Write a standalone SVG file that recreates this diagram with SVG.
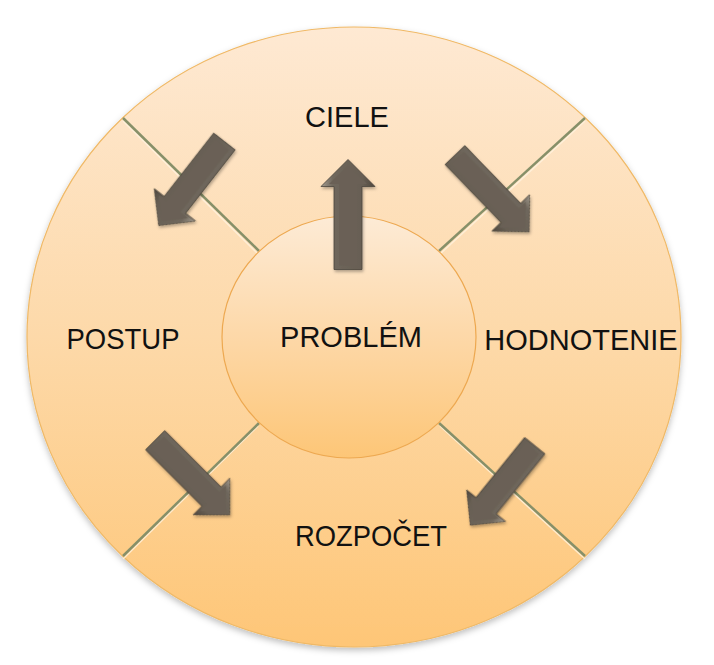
<svg xmlns="http://www.w3.org/2000/svg" width="714" height="665" viewBox="0 0 714 665">
  <defs>
    <linearGradient id="gOuter" x1="0" y1="0" x2="0" y2="1">
      <stop offset="0" stop-color="#fee9d3"/>
      <stop offset="0.5" stop-color="#fdd9a9"/>
      <stop offset="1" stop-color="#fec677"/>
    </linearGradient>
    <linearGradient id="gInner" x1="0" y1="0" x2="0" y2="1">
      <stop offset="0" stop-color="#fdebd6"/>
      <stop offset="0.5" stop-color="#fdd8a8"/>
      <stop offset="1" stop-color="#fdc677"/>
    </linearGradient>
    <linearGradient id="gArrow" x1="0" y1="0" x2="1" y2="0">
      <stop offset="0" stop-color="#a39b8f"/>
      <stop offset="0.22" stop-color="#6f675c"/>
      <stop offset="0.78" stop-color="#675e53"/>
      <stop offset="1" stop-color="#4e473e"/>
    </linearGradient>
    <filter id="shadow" x="-10%" y="-10%" width="120%" height="120%">
      <feDropShadow dx="0" dy="3" stdDeviation="3" flood-color="#000" flood-opacity="0.25"/>
    </filter>
    <filter id="ashadow" x="-30%" y="-30%" width="160%" height="160%">
      <feDropShadow dx="1" dy="2" stdDeviation="1.5" flood-color="#000" flood-opacity="0.3"/>
    </filter>
    <g id="arrow">
      <path d="M0,-55 L27,-28 L14,-28 L14,55 L-14,55 L-14,-28 L-27,-28 Z" fill="url(#gArrow)" stroke="#4a443c" stroke-width="0.8"/>
      <path d="M0,-49 L19,-30.5 L9,-30.5 L9,51 L-9,51 L-9,-30.5 L-19,-30.5 Z" fill="#6a6156"/>
    </g>
    <style>
      .lbl { font-family: "Liberation Sans", Arial, sans-serif; font-size: 29px; fill: #111; text-anchor: middle; }
      .div { stroke: #879069; stroke-width: 2.5; fill: none; }
      .divhl { stroke: #fff3df; stroke-width: 1.5; fill: none; opacity: 0.8; }
    </style>
  </defs>

  <g id="outer-ring">
    <ellipse cx="354" cy="337" rx="327" ry="310" fill="url(#gOuter)" stroke="#f0b966" stroke-width="1.2" filter="url(#shadow)"/>
  </g>

  <g id="dividers">
    <line class="divhl" x1="123" y1="121" x2="258" y2="254"/>
    <line class="divhl" x1="585" y1="121" x2="440" y2="254"/>
    <line class="divhl" x1="123" y1="559" x2="258" y2="426"/>
    <line class="divhl" x1="585" y1="559" x2="440" y2="426"/>
    <line class="div" x1="123" y1="118" x2="259" y2="251"/>
    <line class="div" x1="585" y1="118" x2="439" y2="251"/>
    <line class="div" x1="123" y1="556" x2="259" y2="423"/>
    <line class="div" x1="585" y1="556" x2="439" y2="423"/>
  </g>

  <g id="node-problem">
    <ellipse cx="349" cy="337" rx="127" ry="121" fill="url(#gInner)" stroke="#eda850" stroke-width="1.2"/>
    <text class="lbl" x="351" y="347">PROBLÉM</text>
  </g>

  <g id="node-ciele">
    <text class="lbl" x="347" y="127">CIELE</text>
  </g>
  <g id="node-postup">
    <text class="lbl" x="123" y="349" textLength="113" lengthAdjust="spacingAndGlyphs">POSTUP</text>
  </g>
  <g id="node-hodnotenie">
    <text class="lbl" x="581" y="350">HODNOTENIE</text>
  </g>
  <g id="node-rozpocet">
    <text class="lbl" x="371" y="546" textLength="152" lengthAdjust="spacingAndGlyphs">ROZPOČET</text>
  </g>

  <g id="connectors" filter="url(#ashadow)">
    <use href="#arrow" transform="translate(348,214.5)"/>
    <use href="#arrow" transform="translate(191.5,183.5) rotate(-142) scale(0.97)"/>
    <use href="#arrow" transform="translate(492,193.5) rotate(136) scale(0.97)"/>
    <use href="#arrow" transform="translate(192.5,477.5) rotate(135) scale(0.96)"/>
    <use href="#arrow" transform="translate(502.5,485.5) rotate(-141) scale(0.93)"/>
  </g>
</svg>
